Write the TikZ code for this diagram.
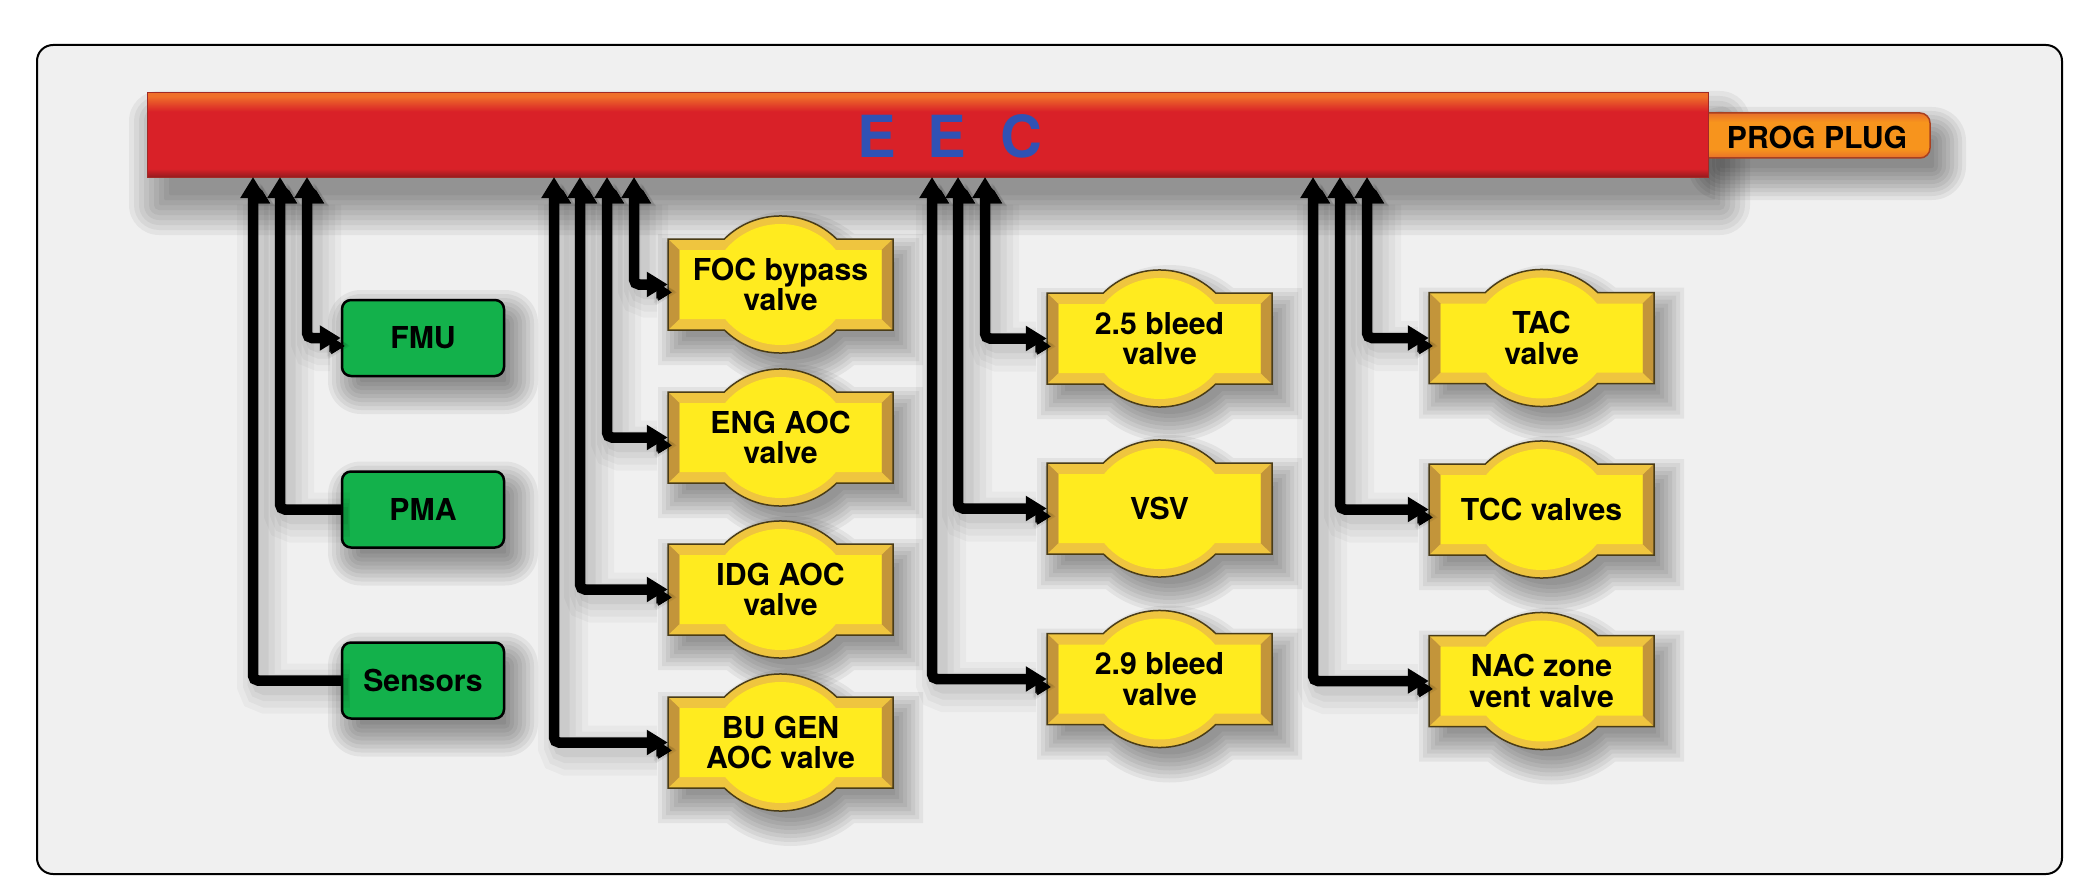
\documentclass[tikz,border=0pt]{standalone}
\usepackage{fontspec}
\setmainfont{TeX Gyre Heros}
\usetikzlibrary{arrows.meta}
\definecolor{bgrey}{HTML}{F0F0F0}
\definecolor{barorange}{HTML}{EF6F2A}
\definecolor{barred}{HTML}{D92128}
\definecolor{bardark}{HTML}{961A1E}
\definecolor{barline}{HTML}{A02A26}
\definecolor{plugmid}{HTML}{F7941D}
\definecolor{plugedge}{HTML}{E8702A}
\definecolor{plugline}{HTML}{A84021}
\definecolor{gboxgreen}{HTML}{13B14B}
\definecolor{bevtop}{HTML}{EFC53F}
\definecolor{bevside}{HTML}{C3953A}
\definecolor{vface}{HTML}{FFEB1F}
\definecolor{voutline}{HTML}{4A3C17}
\definecolor{eecblue}{HTML}{3052B4}
\pgfdeclareverticalshading{barshade}{100bp}{color(0bp)=(bardark); color(25bp)=(bardark); color(30bp)=(barred); color(64bp)=(barred); color(73bp)=(barorange); color(75bp)=(barorange); color(100bp)=(barorange)}
\pgfdeclareverticalshading{plugshade}{100bp}{color(0bp)=(plugedge); color(25bp)=(plugedge); color(35bp)=(plugmid); color(65bp)=(plugmid); color(75bp)=(plugedge); color(100bp)=(plugedge)}
\newcommand\labfont{\fontsize{30.2}{30.5}\selectfont\bfseries}
\newcommand\eecfont{\fontsize{58}{60}\selectfont\bfseries}
% soft shadow of a rounded rectangle: x1 y1 x2 y2 radius dx dy
\newcommand\rshadow[7]{%
  \foreach \sd in {-8,-4,...,24}{%
    \pgfmathsetmacro\rr{max(#5+\sd,1)}%
    \fill[black, opacity=0.055, rounded corners=\rr pt]
      ({#1-\sd+#6},{#2-\sd+#7}) rectangle ({#3+\sd+#6},{#4+\sd+#7});
  }}
% soft shadow of a valve: cx cy
\newcommand\vshadow[2]{%
  \begin{scope}[shift={({#1+10},{#2+15})}]
  \foreach \sd in {-8,-4,...,20}{%
    \pgfmathsetmacro\W{112.5+\sd}%
    \pgfmathsetmacro\H{45.5+\sd}%
    \pgfmathsetmacro\R{80+\sd}%
    \pgfmathsetmacro\hx{sqrt(\R*\R-(\H+11.5)*(\H+11.5))}%
    \pgfmathsetmacro\al{atan2(\H+11.5,\hx)}%
    \fill[black, opacity=0.055] (-\W,-\H) -- (-\hx,-\H)
      arc[start angle={180+\al}, end angle={360-\al}, radius=\R]
      -- (\W,-\H) -- (\W,\H) -- (\hx,\H)
      arc[start angle=\al, end angle={180-\al}, radius=\R] -- (-\W,\H) -- cycle;
  }
  \end{scope}}
\newcommand\valve[4]{%
  \vshadow{#2}{#3}
  \begin{scope}[shift={(#2,#3)}]
    \fill[bevtop]
      (-112.5,-45.5) -- (-56.2,-45.5) arc[start angle=225.4, end angle=314.6, radius=80]
      -- (112.5,-45.5) -- (112.5,45.5) -- (56.2,45.5) arc[start angle=45.4, end angle=134.6, radius=80]
      -- (-112.5,45.5) -- cycle;
    \fill[bevside] (-112.5,-45.5) -- (-101,-34.5) -- (-101,34.5) -- (-112.5,45.5) -- cycle;
    \fill[bevside] (112.5,-45.5) -- (101,-34.5) -- (101,34.5) -- (112.5,45.5) -- cycle;
    \fill[vface]
      (-101,-34.5) -- (-55.4,-34.5) arc[start angle=219.7, end angle=320.3, radius=72]
      -- (101,-34.5) -- (101,34.5) -- (55.4,34.5) arc[start angle=39.7, end angle=140.3, radius=72]
      -- (-101,34.5) -- cycle;
    \draw[voutline, line width=1.5pt]
      (-112.5,-45.5) -- (-56.2,-45.5) arc[start angle=225.4, end angle=314.6, radius=80]
      -- (112.5,-45.5) -- (112.5,45.5) -- (56.2,45.5) arc[start angle=45.4, end angle=134.6, radius=80]
      -- (-112.5,45.5) -- cycle;
  \end{scope}
  \node[valvetxt] (#1) at (#2,#3) {#4};}
\begin{document}
\begin{tikzpicture}[x=1pt,y=-1pt,
  arr/.tip={Triangle[length=21pt,width=24pt]},
  conn/.style={draw=black, line width=10.5pt, rounded corners=5pt,
    preaction={draw=black, draw opacity=0.03, line width=50pt, transform canvas={xshift=9pt, yshift=-8pt}},
    preaction={draw=black, draw opacity=0.035, line width=38pt, transform canvas={xshift=9pt, yshift=-8pt}},
    preaction={draw=black, draw opacity=0.04, line width=27pt, transform canvas={xshift=8pt, yshift=-7pt}},
    preaction={draw=black, draw opacity=0.05, line width=17pt, transform canvas={xshift=7pt, yshift=-6pt}}},
  gbox/.style={draw=black, line width=2.5pt, fill=gboxgreen, rounded corners=9pt,
    minimum width=162pt, minimum height=76pt, inner sep=0pt, font=\labfont},
  valvetxt/.style={minimum width=225pt, minimum height=91pt, inner sep=0pt, align=center, font=\labfont},
  eec/.style={text=eecblue, font=\eecfont, inner sep=0pt}]
\useasboundingbox (0,0) rectangle (2096,888);
\fill[white] (0,0) rectangle (2096,888);
\draw[line width=2pt, fill=bgrey, rounded corners=16pt] (37,45) rectangle (2062,874);
% shadows of bar and plug
\foreach \sd in {-10,-5,...,32}{%
  \fill[black, opacity=0.05, rounded corners={max(\sd,1)*1pt}]
    ({147-\sd+12},{93-\sd+28}) rectangle ({1708+\sd+12},{177+\sd+28});
}
\rshadow{1700}{113}{1930}{158}{10}{12}{18}
% prog plug
\path[draw=plugline, line width=1.5pt, shading=plugshade]
  (1700,113) -- (1920,113) arc[start angle=270, end angle=360, radius=10]
  -- (1930,148) arc[start angle=0, end angle=90, radius=10] -- (1700,158) -- cycle;
\node[font=\labfont, inner sep=0pt] (plug) at (1817,137) {PROG PLUG};
% bar
\node[draw=barline, line width=1pt, shading=barshade, minimum width=1561pt, minimum height=84pt, inner sep=0pt]
  (bar) at (927.5,135) {};
\node[eec] (e1) at (877,136) {E};
\node[eec] (e2) at (947,136) {E};
\node[eec] (c3) at (1021,136) {C};
% green boxes
\rshadow{342}{300}{504}{376}{9}{10}{14}
\rshadow{342}{471.5}{504}{547.5}{9}{10}{14}
\rshadow{342}{642.5}{504}{718.5}{9}{10}{14}
\node[gbox] (fmu) at (423,338) {FMU};
\node[gbox] (pma) at (423,509.5) {PMA};
\node[gbox] (sens) at (423,680.5) {Sensors};
% valves
\valve{foc}{780.5}{284.5}{FOC bypass\\valve}
\valve{eng}{780.5}{437.5}{ENG AOC\\valve}
\valve{idg}{780.5}{589.5}{IDG AOC\\valve}
\valve{bu}{780.5}{742.5}{BU GEN\\AOC valve}
\valve{b25}{1159.5}{338.5}{2.5 bleed\\valve}
\valve{vsv}{1159.5}{508.5}{VSV}
\valve{b29}{1159.5}{679}{2.9 bleed\\valve}
\valve{tac}{1541.5}{338}{TAC\\valve}
\valve{tcc}{1541.5}{509.5}{TCC valves}
\valve{nac}{1541.5}{681}{NAC zone\\vent valve}
% bar attachment points
\coordinate (t1) at (253,177);
\coordinate (t2) at (280,177);
\coordinate (t3) at (307,177);
\coordinate (t4) at (554,177);
\coordinate (t5) at (580,177);
\coordinate (t6) at (607,177);
\coordinate (t7) at (634,177);
\coordinate (t8) at (932,177);
\coordinate (t9) at (958,177);
\coordinate (t10) at (985,177);
\coordinate (t11) at (1313,177);
\coordinate (t12) at (1340,177);
\coordinate (t13) at (1367,177);
% connectors
\draw[conn, arr-arr] (t3) |- (fmu.west);
\draw[conn, arr-] (t2) |- (pma.west);
\draw[conn, arr-] (t1) |- (sens.west);
\draw[conn, arr-arr] (t7) |- (foc.west);
\draw[conn, arr-arr] (t6) |- (eng.west);
\draw[conn, arr-arr] (t5) |- (idg.west);
\draw[conn, arr-arr] (t4) |- (bu.west);
\draw[conn, arr-arr] (t10) |- (b25.west);
\draw[conn, arr-arr] (t9) |- (vsv.west);
\draw[conn, arr-arr] (t8) |- (b29.west);
\draw[conn, arr-arr] (t13) |- (tac.west);
\draw[conn, arr-arr] (t12) |- (tcc.west);
\draw[conn, arr-arr] (t11) |- (nac.west);
\end{tikzpicture}
\end{document}
